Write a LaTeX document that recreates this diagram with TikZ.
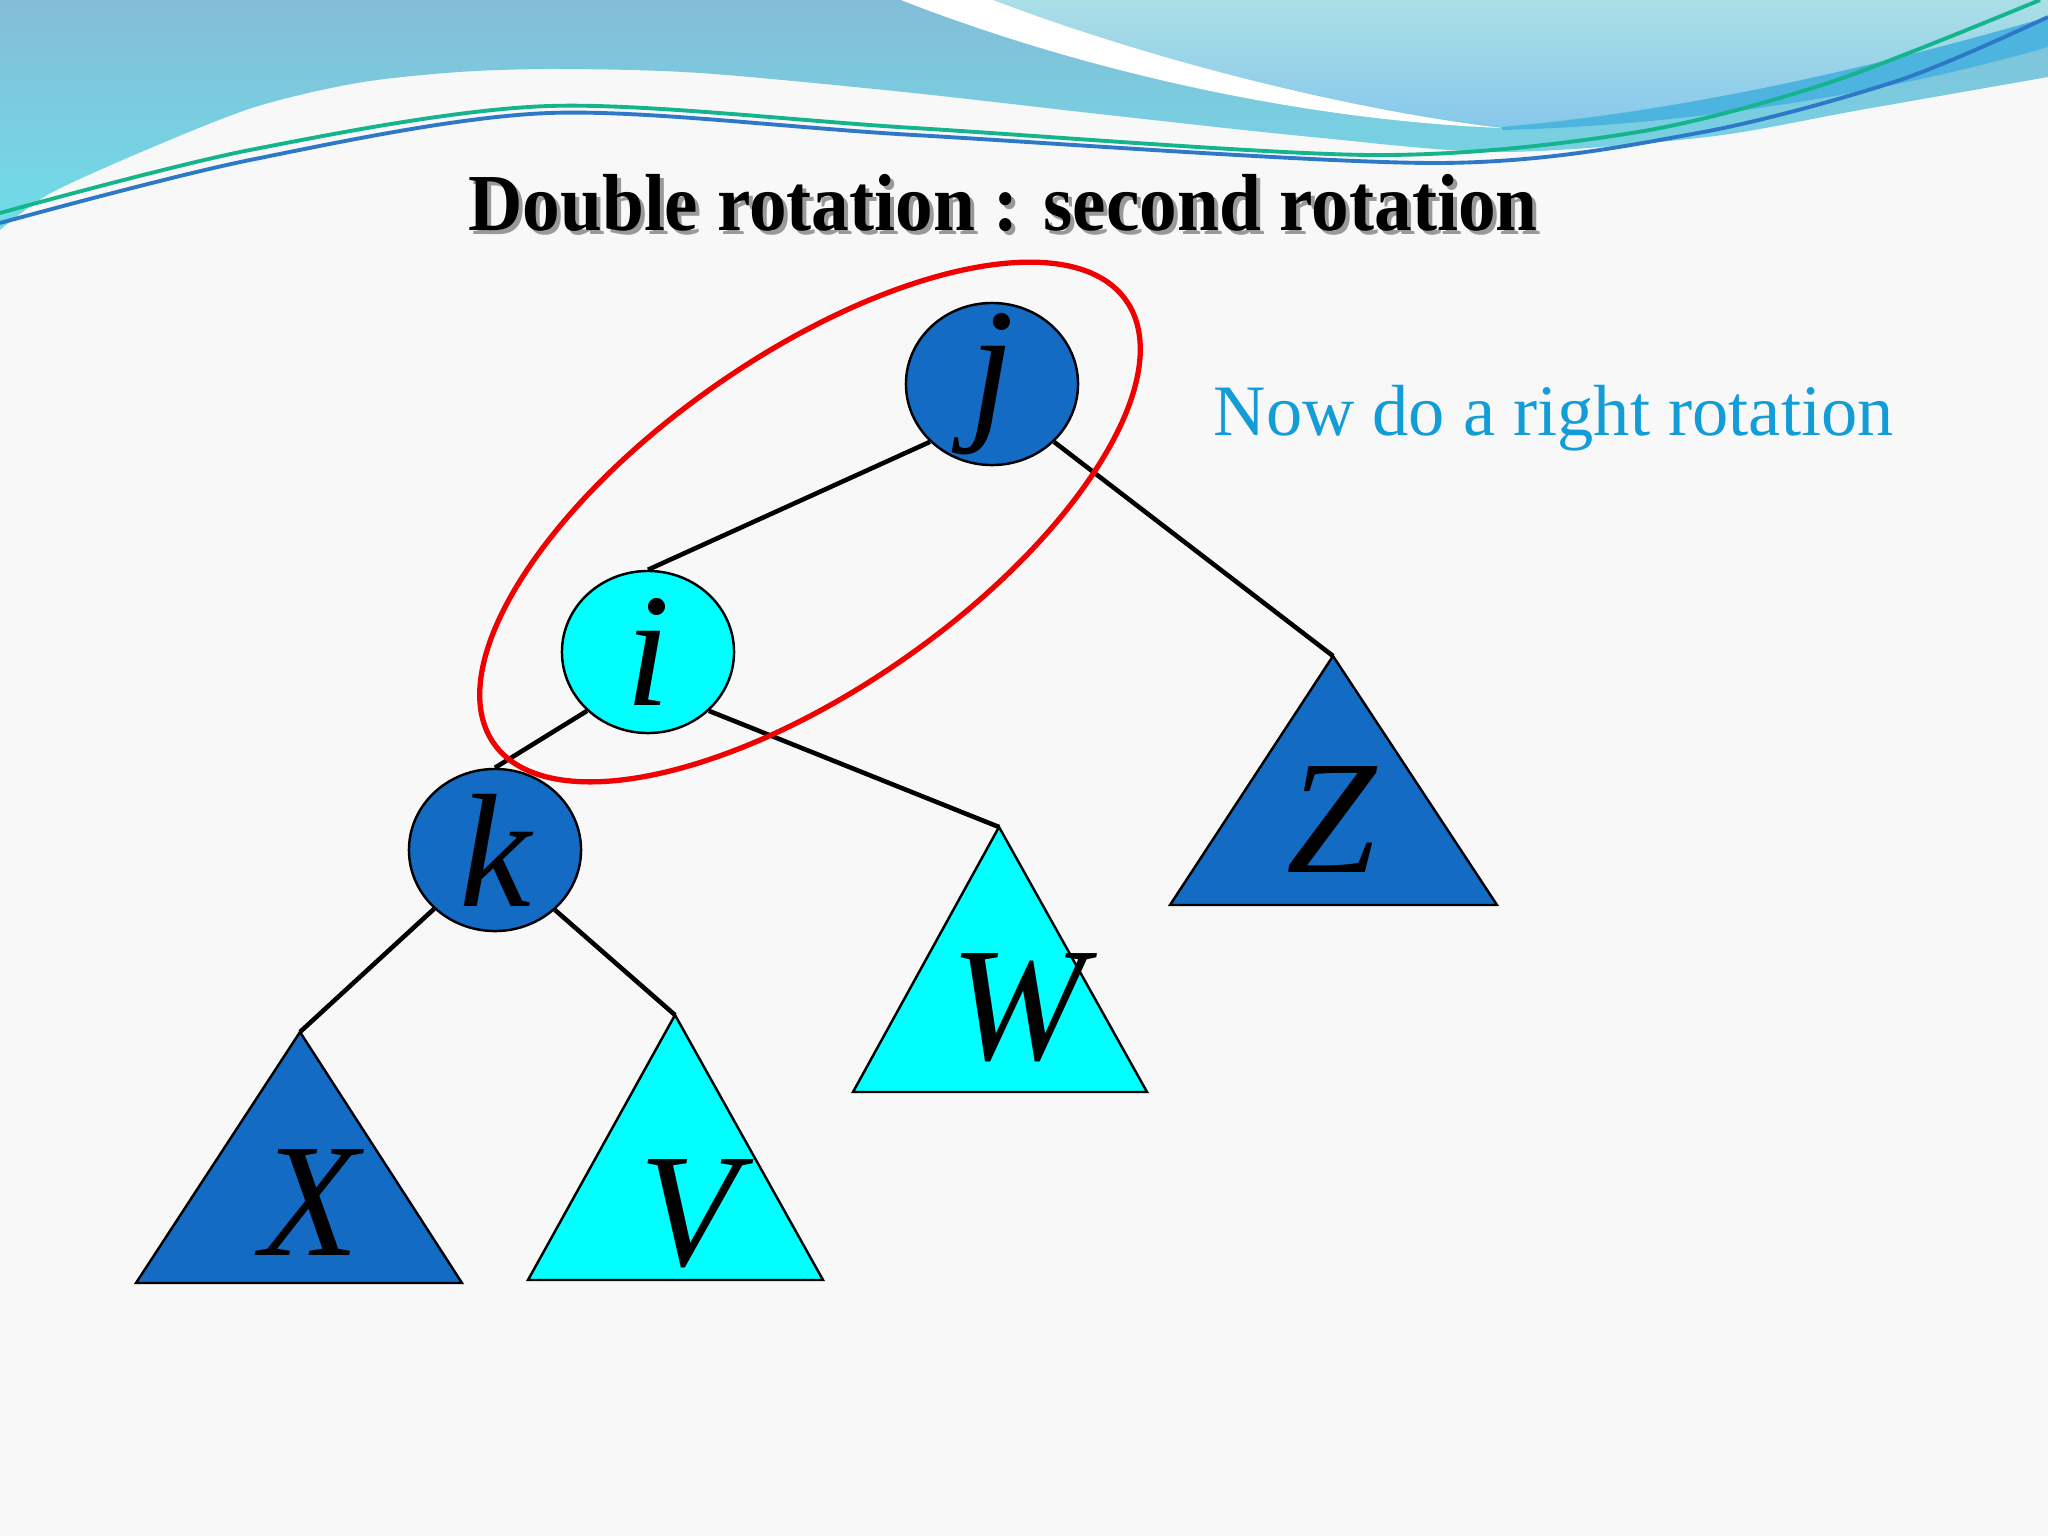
\documentclass[tikz,border=0pt]{standalone}
\usepackage{fontspec}
\usepackage{graphicx}
\usepackage{tikz}
\usetikzlibrary{shapes.geometric}
\newfontfamily\slidefont{Liberation Serif}
\definecolor{pagegray}{HTML}{F8F8F8}
\definecolor{nodeblue}{HTML}{146BC4}
\definecolor{nodecyan}{HTML}{00FFFF}
\definecolor{ringred}{HTML}{F00000}
\definecolor{notecyan}{HTML}{139DD8}
\definecolor{wavetop}{HTML}{84BDD8}
\definecolor{wavebot}{HTML}{6FDDE8}
\definecolor{wavelight}{HTML}{AADFE5}
\definecolor{wavelightbot}{HTML}{88C8EC}
\definecolor{waveband}{HTML}{4DB3DF}
\definecolor{linegreen}{HTML}{14B48C}
\definecolor{lineblue}{HTML}{2E78C8}
\definecolor{linegray}{HTML}{9AA4AA}
\tikzset{
  treenode/.style={ellipse,draw=black,line width=0.7pt,minimum width=1.72cm,
    minimum height=1.62cm,inner sep=0pt},
  subtree/.style={draw=black,line width=0.7pt},
  treeedge/.style={line width=1.3pt,black},
  letter/.style={font=\slidefont\itshape\fontsize{46}{46}\selectfont,inner sep=0pt}
}

\begin{document}
\begin{tikzpicture}[x=0.01cm,y=-0.01cm]
  \useasboundingbox (0,0) rectangle (2048,1536);
  \fill[pagegray] (0,0) rectangle (2048,1536);
  % header waves
  \shade[top color=wavetop,bottom color=wavebot] (0,0) -- (2048,0) -- plot[smooth] coordinates {(2048,77) (1860,110) (1707,137) (1500,152) (1312,137) (1108,115) (904,92) (700,73) (561,69) (459,72) (357,83) (255,107) (153,147) (51,193) (0,230)} -- cycle;
  \shade[top color=wavelight,bottom color=wavelightbot] (993,0) .. controls (1150,60) and (1350,110) .. (1502,126) .. controls (1700,110) and (1900,60) .. (2048,17) -- (2048,0) -- cycle;
  \fill[white] (901,0) .. controls (1080,70) and (1300,120) .. (1502,128) .. controls (1350,110) and (1150,60) .. (993,0) -- cycle;
  \fill[waveband] (1502,127) .. controls (1700,110) and (1900,60) .. (2048,17) -- (2048,47) .. controls (1900,90) and (1700,125) .. (1502,130) -- cycle;
  \draw[linegreen,line width=1.1pt] plot[smooth] coordinates {(0,213) (250,150) (549,106) (914,128) (1371,155) (1632,133) (1828,83) (2040,0)};
  \draw[lineblue,line width=1.1pt] plot[smooth] coordinates {(0,223) (250,160) (549,113) (914,135) (1437,163) (1698,133) (1900,80) (2048,17)};

  % title
  \node[font=\slidefont\bfseries\fontsize{23}{23}\selectfont,text=black!40,anchor=base] (titleshadow) at (1007,234) {\scalebox{0.93}[1]{Double rotation : second rotation}};
  \node[font=\slidefont\bfseries\fontsize{23}{23}\selectfont,anchor=base] (title) at (1003,230) {\scalebox{0.93}[1]{Double rotation : second rotation}};
  \node[font=\slidefont\fontsize{20.6}{20.6}\selectfont,text=notecyan,anchor=base west,inner sep=0pt] (note) at (1213,435) {Now do a right rotation};

  % tree
  \node[treenode,fill=nodeblue,label={[letter]center:j}] (j) at (992,384) {};
  \node[treenode,fill=nodecyan,label={[letter]center:i}] (i) at (648,652) {};
  \node[treenode,fill=nodeblue,label={[letter]center:k}] (k) at (495,850) {};
  \coordinate (ztop) at (1333,656);
  \coordinate (wtop) at (999,827);
  \coordinate (xtop) at (300,1032);
  \coordinate (vtop) at (675,1015);
  \filldraw[subtree,fill=nodeblue] (ztop) -- (1497,905) -- (1170,905) -- cycle;
  \filldraw[subtree,fill=nodecyan] (wtop) -- (1147,1092) -- (853,1092) -- cycle;
  \filldraw[subtree,fill=nodeblue] (xtop) -- (462,1283) -- (136,1283) -- cycle;
  \filldraw[subtree,fill=nodecyan] (vtop) -- (823,1280) -- (528,1280) -- cycle;
  \node[letter] (zlabel) at (1331,820) {Z};
  \node[letter] (wlabel) at (1018,1008) {W};
  \node[letter] (xlabel) at (310,1203) {X};
  \node[letter] (vlabel) at (689,1214) {V};
  \draw[treeedge] (j.223) -- (i.north);
  \draw[treeedge] (j.317) -- (ztop);
  \draw[treeedge] (i.224) -- (k.north);
  \draw[treeedge] (i.316) -- (wtop);
  \draw[treeedge] (k.224) -- (xtop);
  \draw[treeedge] (k.315) -- (vtop);
  \draw[ringred,line width=1.5pt,rotate around={35:(810,522)}] (810,522) ellipse [x radius=386,y radius=166];
\end{tikzpicture}
\end{document}
